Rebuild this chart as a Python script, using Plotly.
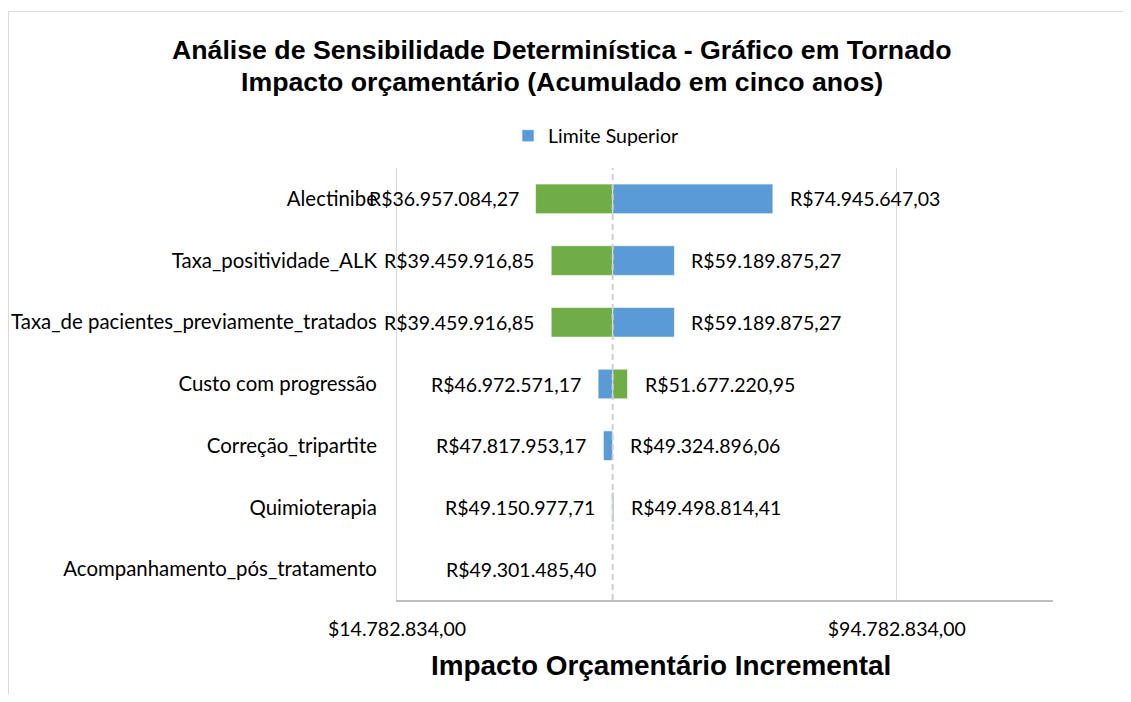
import plotly.graph_objects as go

# ---------------- data ----------------
categories = [
    "Alectinibe",
    "Taxa_positividade_ALK",
    "Taxa_de pacientes_previamente_tratados",
    "Custo com progressão",
    "Correção_tripartite",
    "Quimioterapia",
    "Acompanhamento_pós_tratamento",
]
limite_superior = [74945647.03, 59189875.27, 59189875.27, 46972571.17,
                   47817953.17, 49150977.71, 49301485.40]
limite_inferior = [36957084.27, 39459916.85, 39459916.85, 51677220.95,
                   49324896.06, 49498814.41, 49301485.40]
left_labels = [36957084.27, 39459916.85, 39459916.85, 46972571.17,
               47817953.17, 49150977.71, 49301485.40]
right_labels = [74945647.03, 59189875.27, 59189875.27, 51677220.95,
                49324896.06, 49498814.41, None]
base_value = 49301485.40
x_ticks = [14782834.00, 94782834.00]
x_min = 14782834.00
x_max = 119782834.00

# ---------------- layout geometry ----------------
OFF = 8  # page body margin
W, H = 1131 - 2 * OFF, 702 - 2 * OFF
L, T = 397 - OFF, 168 - OFF
R = W - (1053 - OFF)
B = H - (600 - OFF)
PW, PH = W - L - R, H - T - B


def px_x(sx):
    return (sx - OFF - L) / PW


def px_y(sy):
    return (H - B - (sy - OFF)) / PH


def brl(v, prefix="R$"):
    s = f"{v:,.2f}".replace(",", "X").replace(".", ",").replace("X", ".")
    return prefix + s


TXT = "Lato"
BOLD = "Liberation Sans"
BLUE = "#5B9BD5"
GREEN = "#70AD47"
LBL = 19.5

fig = go.Figure()
fig.add_trace(go.Bar(
    y=categories,
    x=[v - base_value for v in limite_inferior],
    base=base_value,
    orientation="h",
    name="Limite Inferior",
    marker=dict(color=GREEN, line=dict(color="rgba(255,255,255,0.6)", width=1)),
    showlegend=False,
))
fig.add_trace(go.Bar(
    y=categories,
    x=[v - base_value for v in limite_superior],
    base=base_value,
    orientation="h",
    name="Limite Superior",
    marker=dict(color=BLUE, line=dict(color="rgba(255,255,255,0.6)", width=1)),
    showlegend=True,
))

annotations = []
for c, v in zip(categories, left_labels):
    if v is not None:
        annotations.append(dict(x=v, y=c, xref="x", yref="y", text=brl(v),
                                xanchor="right", xshift=-15, showarrow=False,
                                font=dict(family=TXT, size=LBL, color="#000000")))
for c, v in zip(categories, right_labels):
    if v is not None:
        annotations.append(dict(x=v, y=c, xref="x", yref="y", text=brl(v),
                                xanchor="left", xshift=15, showarrow=False,
                                font=dict(family=TXT, size=LBL, color="#000000")))

# titles
annotations.append(dict(x=px_x(562), y=px_y(50), xref="paper", yref="paper",
                        text="<b>Análise de Sensibilidade Determinística - Gráfico em Tornado</b>",
                        showarrow=False, xanchor="center", yanchor="middle",
                        font=dict(family=BOLD, size=26.7, color="#000000")))
annotations.append(dict(x=px_x(562), y=px_y(82), xref="paper", yref="paper",
                        text="<b>Impacto orçamentário (Acumulado em cinco anos)</b>",
                        showarrow=False, xanchor="center", yanchor="middle",
                        font=dict(family=BOLD, size=26.7, color="#000000")))
# x-axis title
annotations.append(dict(x=px_x(661), y=px_y(665), xref="paper", yref="paper",
                        text="<b>Impacto Orçamentário Incremental</b>",
                        showarrow=False, xanchor="center", yanchor="middle",
                        font=dict(family=BOLD, size=27.9, color="#000000")))

x_right_edge = (W - L) / PW
y_bottom_edge = -B / PH
shapes = [
    dict(type="line", xref="x", yref="paper", x0=base_value, x1=base_value,
         y0=0, y1=1, line=dict(color="#d0d0d0", width=2, dash="6px,4px"), layer="above"),
    # chart border (left and top)
    dict(type="line", xref="paper", yref="paper", x0=px_x(8.5), x1=px_x(8.5),
         y0=px_y(11.5), y1=y_bottom_edge, line=dict(color="#d9d9d9", width=1)),
    dict(type="line", xref="paper", yref="paper", x0=px_x(8.5), x1=x_right_edge,
         y0=px_y(11.5), y1=px_y(11.5), line=dict(color="#d9d9d9", width=1)),
]

fig.update_layout(
    width=W, height=H,
    margin=dict(l=L, r=R, t=T, b=B, pad=0, autoexpand=False),
    paper_bgcolor="white", plot_bgcolor="white",
    barmode="overlay", bargap=0.52,
    showlegend=True,
    legend=dict(orientation="h", x=px_x(596), y=px_y(136), xanchor="center",
                yanchor="middle", font=dict(family=TXT, size=LBL, color="#000000"),
                bgcolor="rgba(0,0,0,0)"),
    annotations=annotations,
    shapes=shapes,
    xaxis=dict(
        range=[x_min, x_max], automargin=False,
        tickmode="array", tickvals=x_ticks,
        ticktext=[brl(v, "$") for v in x_ticks],
        showgrid=True, gridcolor="#d9d9d9", gridwidth=1,
        zeroline=False, showline=True, linecolor="#bfbfbf", linewidth=1.5,
        ticks="", ticklabelstandoff=11,
        tickfont=dict(family=TXT, size=LBL, color="#000000"),
    ),
    yaxis=dict(
        categoryorder="array", categoryarray=categories, autorange="reversed",
        automargin=False,
        showgrid=False, zeroline=False, showline=True, linecolor="#d9d9d9",
        linewidth=1, ticks="", ticklabelstandoff=15,
        tickfont=dict(family=TXT, size=20.4, color="#000000"),
    ),
)

fig.write_html("out.html")
